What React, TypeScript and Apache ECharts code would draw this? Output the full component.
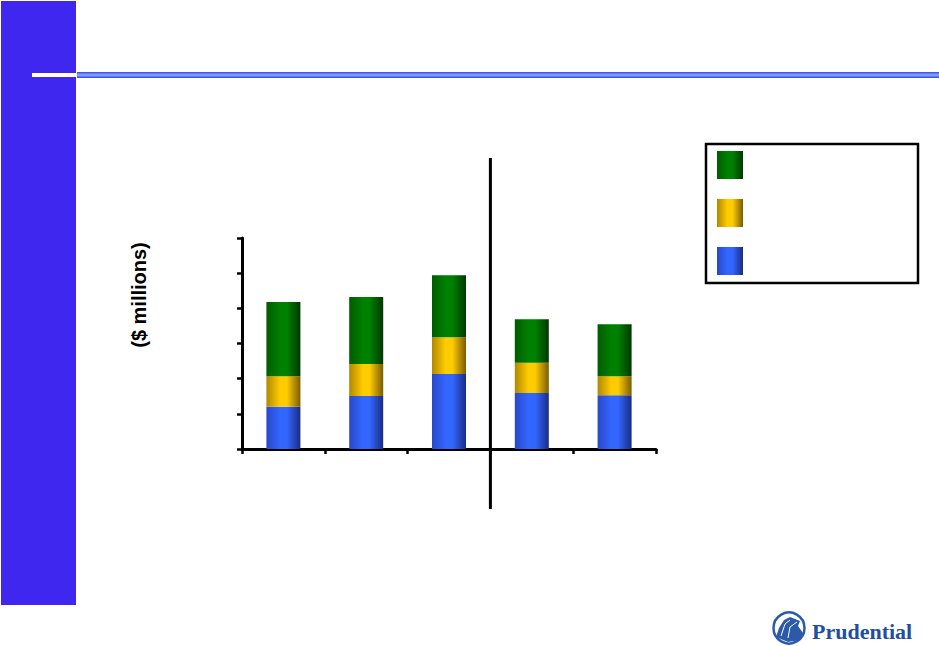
import React, { useEffect, useRef } from "react";
import * as echarts from "echarts";

const categories = ["C1", "C2", "C3", "C4", "C5"];
const blueValues = [120, 151, 213, 159, 153];
const yellowValues = [87, 91, 105, 86, 54];
const greenValues = [211, 190, 176, 124, 148];
const yTicks = { min: 0, max: 600, interval: 100 };

const grad = (edge: string, mid: string, dark: string) =>
  new echarts.graphic.LinearGradient(0, 0, 1, 0, [
    { offset: 0, color: edge },
    { offset: 0.4, color: mid },
    { offset: 0.6, color: mid },
    { offset: 1, color: dark },
  ]);

export default function App() {
  const ref = useRef<HTMLDivElement>(null);
  useEffect(() => {
    const chart = echarts.init(ref.current!, null, { renderer: "svg" });
    const blue = grad("#2848c8", "#3366ff", "#1a2c84");
    const yellow = grad("#b08800", "#ffcc00", "#7a5c00");
    const green = grad("#005c00", "#008000", "#003800");
    const option: any = {
      animation: false,
      backgroundColor: "#ffffff",
      grid: { left: 242, right: 283, top: 238, bottom: 197 },
      legend: {
        orient: "vertical",
        left: 717,
        top: 151,
        padding: 0,
        itemWidth: 26,
        itemHeight: 28,
        itemGap: 20,
        icon: "rect",
        selectedMode: false,
        formatter: () => "",
        data: ["Green", "Yellow", "Blue"],
      },
      xAxis: {
        type: "category",
        data: categories,
        axisLine: { lineStyle: { color: "#000", width: 3 } },
        axisTick: { show: true, length: 5, lineStyle: { color: "#000", width: 2.5 } },
        axisLabel: { show: false },
      },
      yAxis: {
        type: "value",
        ...yTicks,
        axisLine: { show: true, lineStyle: { color: "#000", width: 3 } },
        axisTick: { show: true, length: 5, lineStyle: { color: "#000", width: 2.5 } },
        axisLabel: { show: false },
        splitLine: { show: false },
      },
      series: [
        { name: "Blue", type: "bar", stack: "s", data: blueValues, barWidth: 34, itemStyle: { color: blue } },
        { name: "Yellow", type: "bar", stack: "s", data: yellowValues, barWidth: 34, itemStyle: { color: yellow } },
        { name: "Green", type: "bar", stack: "s", data: greenValues, barWidth: 34, itemStyle: { color: green } },
      ],
    };
    chart.setOption(option);
    const a = chart.convertToPixel({ xAxisIndex: 0 }, categories[2]) as number;
    const b = chart.convertToPixel({ xAxisIndex: 0 }, categories[3]) as number;
    const dx = (a + b) / 2;
    chart.setOption({
      graphic: [
        { type: "rect", shape: { x: 1, y: 1, width: 75, height: 604 }, style: { fill: "#3f27f0" } },
        { type: "rect", shape: { x: 77, y: 72, width: 862, height: 6 }, style: { fill: "#4455e8" } },
        { type: "rect", shape: { x: 77, y: 73.5, width: 862, height: 3 }, style: { fill: "#7d9cff" } },
        { type: "rect", shape: { x: 32, y: 73, width: 45, height: 4 }, style: { fill: "#ffffff" } },
        {
          type: "line",
          shape: { x1: dx, y1: 158, x2: dx, y2: 509 },
          style: { stroke: "#000", lineWidth: 3 },
        },
        {
          type: "rect",
          shape: { x: 706, y: 144, width: 212, height: 139 },
          style: { fill: "none", stroke: "#000", lineWidth: 2.5 },
          z: -1,
        },
        {
          type: "text",
          x: 138.5,
          y: 295,
          rotation: Math.PI / 2,
          style: {
            text: "($ millions)",
            fontFamily: "Liberation Sans, Arial, sans-serif",
            fontSize: 20,
            fontWeight: "bold",
            fill: "#000",
            align: "center",
            verticalAlign: "middle",
          },
        },
        {
          type: "circle",
          shape: { cx: 789, cy: 628, r: 15.5 },
          style: { fill: "#ffffff", stroke: "#2a5aa8", lineWidth: 2.5 },
        },
        {
          type: "polygon",
          shape: {
            points: [
              [776, 637], [779, 628], [784, 620], [790, 617], [800, 621], [798, 626], [803, 633], [800, 640], [788, 642],
            ],
          },
          style: { fill: "#2a5aa8" },
        },
        {
          type: "polyline",
          shape: { points: [[781, 636], [785, 624], [790, 620]] },
          style: { stroke: "#ffffff", lineWidth: 1, fill: "none" },
        },
        {
          type: "polyline",
          shape: { points: [[788, 638], [790, 627], [797, 622]] },
          style: { stroke: "#ffffff", lineWidth: 1, fill: "none" },
        },
        {
          type: "text",
          x: 812,
          y: 631,
          style: {
            text: "Prudential",
            fontFamily: "Liberation Serif, Times New Roman, serif",
            fontSize: 22,
            fontWeight: "bold",
            fill: "#1f4f9f",
            align: "left",
            verticalAlign: "middle",
          },
        },
      ],
    });
    return () => chart.dispose();
  }, []);
  return (
    <div
      ref={ref}
      style={{ position: "absolute", left: 0, top: 0, width: 939, height: 646 }}
    />
  );
}
